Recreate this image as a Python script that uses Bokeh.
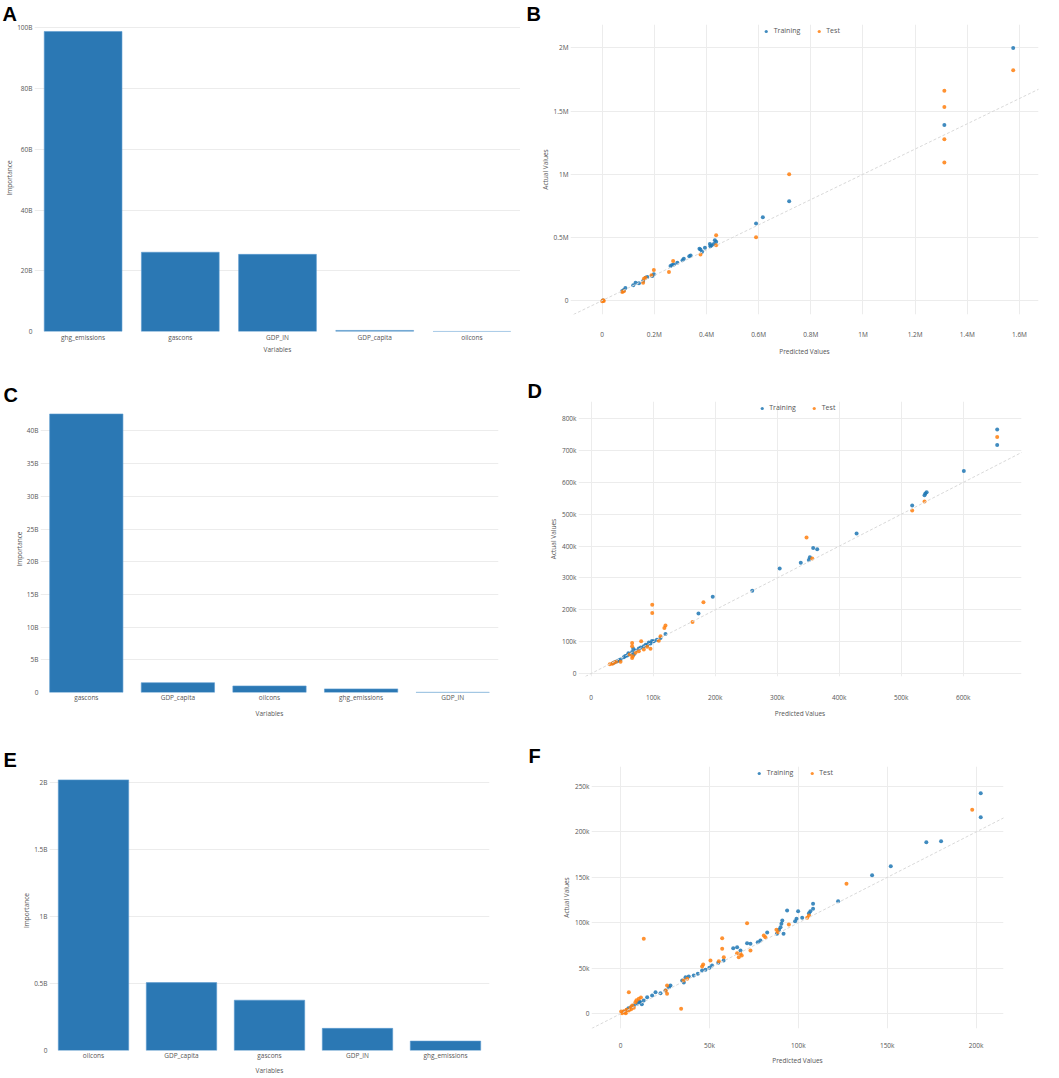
from bokeh.plotting import figure
from bokeh.models import (FactorRange, Range1d, FixedTicker, CustomJSTickFormatter,
                          Legend, LegendItem, Slope, ColumnDataSource)
from bokeh.layouts import column, row
from bokeh.embed import file_html
from bokeh.resources import INLINE

# ---------------- data ----------------
cats_a = ["ghg_emissions", "gascons", "GDP_IN", "GDP_capita", "oilcons"]
vals_a = [98.8, 26.1, 25.4, 0.35, 0.02]
cats_c = ["gascons", "GDP_capita", "oilcons", "ghg_emissions", "GDP_IN"]
vals_c = [42.6, 1.5, 1.0, 0.55, 0.03]
cats_e = ["oilcons", "GDP_capita", "gascons", "GDP_IN", "ghg_emissions"]
vals_e = [2.017, 0.506, 0.375, 0.165, 0.07]

bx_tr = [1.576, 1.312, 0.717, 0.616, 0.590, 0.437, 0.432, 0.428, 0.418, 0.413, 0.415, 0.394,
         0.377, 0.373, 0.383, 0.339, 0.334, 0.313, 0.308, 0.288, 0.275, 0.268, 0.262, 0.198,
         0.192, 0.173, 0.166, 0.157, 0.141, 0.128, 0.119, 0.089, 0.083, 0.077, 0.003]
by_tr = [2.0, 1.39, 0.786, 0.66, 0.61, 0.465, 0.478, 0.449, 0.436, 0.449, 0.431, 0.418,
         0.405, 0.41, 0.386, 0.357, 0.352, 0.331, 0.32, 0.30, 0.286, 0.281, 0.273, 0.208,
         0.194, 0.187, 0.181, 0.155, 0.137, 0.142, 0.121, 0.10, 0.084, 0.076, 0.0]
bx_te = [1.576, 1.312, 1.312, 1.312, 1.312, 0.717, 0.590, 0.437, 0.437, 0.377, 0.272, 0.256,
         0.198, 0.189, 0.166, 0.160, 0.157, 0.083, 0.077, 0.004, 0.006, 0.0]
by_te = [1.824, 1.661, 1.532, 1.277, 1.093, 1.001, 0.502, 0.518, 0.439, 0.365, 0.313, 0.226,
         0.242, 0.200, 0.181, 0.173, 0.142, 0.074, 0.068, 0.003, -0.003, -0.005]

dx_tr = [654.8, 654.8, 601, 539, 537.6, 541, 517.7, 428, 364.5, 358, 352.7, 351, 338, 304,
         259.7, 196, 173, 119.8, 111.8, 106, 101, 95.6, 90.3, 84.8, 76.8, 71.5, 66, 62.3, 58,
         52.6, 47.3, 42, 67.7, 68.7, 38, 35, 45, 55, 60, 80, 88, 93, 98]
dy_tr = [766.4, 717.4, 636, 565, 560, 569, 527.6, 440, 390, 394, 365, 356.6, 348, 329.5,
         259.6, 241, 188.7, 124, 111.7, 106, 101, 93.9, 88.6, 85.4, 78.2, 72, 67.9, 61.6, 56.3,
         51, 43.8, 38.5, 78, 59.4, 35, 32, 42, 55, 64, 82, 90, 97, 102]
dx_te = [654.8, 537.6, 517.7, 347.3, 356.5, 181, 163.4, 98.4, 98.4, 119.8, 118, 66, 66, 66, 67,
         80.6, 90.3, 76.8, 36.5, 33.9, 47.3, 111.8, 109, 95.6, 84.8, 71.5, 30, 40, 62]
dy_te = [742.4, 540, 512, 427.5, 360.8, 224, 161.6, 216, 190, 151, 143, 96, 85.8, 49, 54,
         101, 84, 69.8, 33.5, 30.3, 36.7, 116.7, 103, 78, 75, 65, 29, 37, 60]

fx_tr = [202.6, 202.6, 180.3, 172, 152, 141.5, 122.4, 108.3, 108.3, 106.8, 106, 102.2, 99,
         98.2, 99.9, 93.7, 91, 90.5, 90, 89.2, 91.7, 88, 82.5, 78.7, 77.2, 73.1, 71.2, 67.5,
         65.6, 63.4, 58, 51.5, 50, 47.8, 45.9, 41.2, 38.4, 36.6, 34.7, 35.6, 28.1, 27.2, 25.3,
         22.5, 19.7, 17.8, 15, 13.1, 11.2, 9.4, 7.5, 3.7, 1.9, 43.5, 55, 10.5, 12, 6, 4.5]
fy_tr = [242.7, 216.3, 189.9, 188.8, 162.4, 152.5, 123.9, 121, 115.5, 112.9, 110.7, 105.6,
         104.5, 101.9, 112.9, 113.6, 102.6, 99, 95.3, 92.4, 88, 88, 89.4, 80.6, 78.8, 77, 77.7,
         69.6, 73.3, 72.2, 58.7, 53, 50.6, 48.4, 47.7, 42.2, 41, 40.3, 36.7, 34.5, 31.2, 29.3,
         25.7, 22.7, 23.8, 20.2, 18.3, 14.7, 12.8, 11, 9.2, 4.4, 2.2, 44, 56, 13.5, 10.5, 7.5, 6]
fx_te = [197.8, 127.1, 106, 105, 94.7, 88.5, 87.7, 81.5, 80.6, 71.2, 73.1, 68.2, 67.5, 65.6,
         66.5, 57.2, 57.2, 58.1, 55.3, 50.6, 46.5, 45.9, 37.5, 35.5, 34.1, 26.2, 25.5, 26.2,
         13.1, 4.7, 10.3, 8.4, 6.6, 5.6, 3.4, 1.9, 0.9, 0.4, 4.7, 7.5, 11.5, 9, 2.5, 6, 3]
fy_te = [224.3, 143, 108, 105.6, 98.2, 89.8, 92.4, 84.3, 86, 99.7, 69.6, 64.1, 66, 66.7, 62.3,
         83.2, 71.5, 62.3, 57.9, 58.7, 54.3, 52, 38.5, 36.5, 5.5, 31.2, 25.7, 22, 82.5, 23.8,
         16.5, 12.8, 9.2, 6.6, 4.4, 2.9, 0.7, 2.6, 3.7, 6.6, 18, 15, 1.5, 5, 0.5]

ticks_a = [0, 20, 40, 60, 80, 100]
ticks_c = [0, 5, 10, 15, 20, 25, 30, 35, 40]
ticks_e = [0, 0.5, 1, 1.5, 2]
ticks_bx = [0, 0.2, 0.4, 0.6, 0.8, 1, 1.2, 1.4, 1.6]
ticks_by = [0, 0.5, 1, 1.5, 2]
ticks_dx = [0, 100, 200, 300, 400, 500, 600]
ticks_dy = [0, 100, 200, 300, 400, 500, 600, 700, 800]
ticks_fx = [0, 50, 100, 150, 200]
ticks_fy = [0, 50, 100, 150, 200, 250]

# ---------------- styling ----------------
BAR = "#2b78b4"
BLUE = "#1f77b4"
ORANGE = "#ff7f0e"
GRID = "#ececec"
TXT = "#555555"
FONT = "Open Sans"
TICK_FS = "6.5px"


def fmt(suffix):
    return CustomJSTickFormatter(code="return tick == 0 ? '0' : tick + '%s';" % suffix)


def style_axes(p):
    for ax in (p.xaxis[0], p.yaxis[0]):
        ax.axis_line_color = None
        ax.major_tick_line_color = None
        ax.minor_tick_line_color = None
        ax.major_tick_out = 0
        ax.major_tick_in = 0
        ax.major_label_text_font_size = TICK_FS
        ax.major_label_text_color = TXT
        ax.major_label_text_font = FONT
        ax.axis_label_text_font_size = TICK_FS
        ax.axis_label_text_color = TXT
        ax.axis_label_text_font = FONT
        ax.axis_label_text_font_style = "normal"
    p.outline_line_color = None
    p.ygrid.grid_line_color = GRID
    p.xgrid.grid_line_color = GRID


def set_letter(p, txt, offset):
    p.title.text = txt
    p.title.text_font_size = "20px"
    p.title.text_font_style = "bold"
    p.title.text_font = "Liberation Sans"
    p.title.text_color = "black"
    p.title.align = "left"
    p.title.offset = offset
    p.title.standoff = 0


def bar_panel(cats, vals, ymax, ticks, W, H, L, R, T, Bm, letter, off, xs1, xs2, ys2):
    p = figure(x_range=FactorRange(factors=cats), y_range=Range1d(0, ymax),
               width=W, height=H, min_border_left=L, min_border_right=R,
               min_border_top=T, min_border_bottom=Bm,
               output_backend="svg", toolbar_location=None)
    src = ColumnDataSource(dict(cat=cats, val=vals))
    p.vbar(x="cat", top="val", width=0.8, source=src, fill_color=BAR, line_color="#5a9ad0",
           line_width=0.6)
    style_axes(p)
    p.xgrid.grid_line_color = None
    p.yaxis[0].ticker = FixedTicker(ticks=ticks)
    p.yaxis[0].formatter = fmt("B")
    p.xaxis[0].axis_label = "Variables"
    p.yaxis[0].axis_label = "Importance"
    p.xaxis[0].major_label_standoff = xs1
    p.xaxis[0].axis_label_standoff = xs2
    p.yaxis[0].major_label_standoff = 2
    p.yaxis[0].axis_label_standoff = ys2
    set_letter(p, letter, off)
    return p


def scatter_panel(xt, yt, xs, ys, xr, yr, xticks, yticks, suffix,
                  W, H, L, R, T, Bm, letter, off, xs1, xs2):
    p = figure(x_range=Range1d(*xr), y_range=Range1d(*yr),
               width=W, height=H, min_border_left=L, min_border_right=R,
               min_border_top=T, min_border_bottom=Bm,
               output_backend="svg", toolbar_location=None)
    style_axes(p)
    p.add_layout(Slope(gradient=1, y_intercept=0, line_color="#d9d9d9",
                       line_dash="3 2", line_width=1))
    r1 = p.scatter(xt, yt, marker="circle", size=4, fill_color=BLUE, line_color=None,
                   fill_alpha=0.85)
    r2 = p.scatter(xs, ys, marker="circle", size=4, fill_color=ORANGE, line_color=None,
                   fill_alpha=0.85)
    p.xaxis[0].ticker = FixedTicker(ticks=xticks)
    p.yaxis[0].ticker = FixedTicker(ticks=yticks)
    p.xaxis[0].formatter = fmt(suffix)
    p.yaxis[0].formatter = fmt(suffix)
    p.xaxis[0].axis_label = "Predicted Values"
    p.yaxis[0].axis_label = "Actual Values"
    p.xaxis[0].major_label_standoff = xs1
    p.xaxis[0].axis_label_standoff = xs2
    p.yaxis[0].major_label_standoff = 2
    p.yaxis[0].axis_label_standoff = 1
    leg = Legend(items=[LegendItem(label="Training", renderers=[r1]),
                        LegendItem(label="Test", renderers=[r2])],
                 orientation="horizontal", location="top_center",
                 border_line_color=None, background_fill_alpha=0,
                 label_text_font_size="7px", label_text_color=TXT, label_text_font=FONT,
                 glyph_width=8, glyph_height=8, label_height=8,
                 padding=0, margin=2, spacing=14, label_standoff=4)
    p.add_layout(leg, "center")
    set_letter(p, letter, off)
    return p


pA = bar_panel(cats_a, vals_a, 101.1, ticks_a, 520, 358, 34, 0, 24, 27, "A", -32, 1, 0, 0)
pC = bar_panel(cats_c, vals_c, 43.9, ticks_c, 520, 362, 40, 22, 47, 27, "C", -37, 0, 4, 0)
pE = bar_panel(cats_e, vals_e, 2.087, ticks_e, 520, 358, 49, 31, 50, 28, "E", -46, 0, 3, 0)

pB = scatter_panel(bx_tr, by_tr, bx_te, by_te, (-0.1215, 1.673), (-0.11, 2.186),
                   ticks_bx, ticks_by, "M", 539, 358, 50, 21, 24, 43, "B", -44, 15, 5)
pD = scatter_panel(dx_tr, dy_tr, dx_te, dy_te, (-20.5, 694), (-9.4, 854.2),
                   ticks_dx, ticks_dy, "k", 539, 362, 58, 38, 43, 43, "D", -51, 16, 4)
pF = scatter_panel(fx_tr, fy_tr, fx_te, fy_te, (-16.3, 215.4), (-16.2, 272),
                   ticks_fx, ticks_fy, "k", 539, 358, 71, 56, 46, 50, "F", -63, 12, 3)

layout = column(row(column(pA), column(pB)),
                row(column(pC), column(pD)),
                row(column(pE), column(pF)))

open("out.html", "w").write(file_html(layout, INLINE))
